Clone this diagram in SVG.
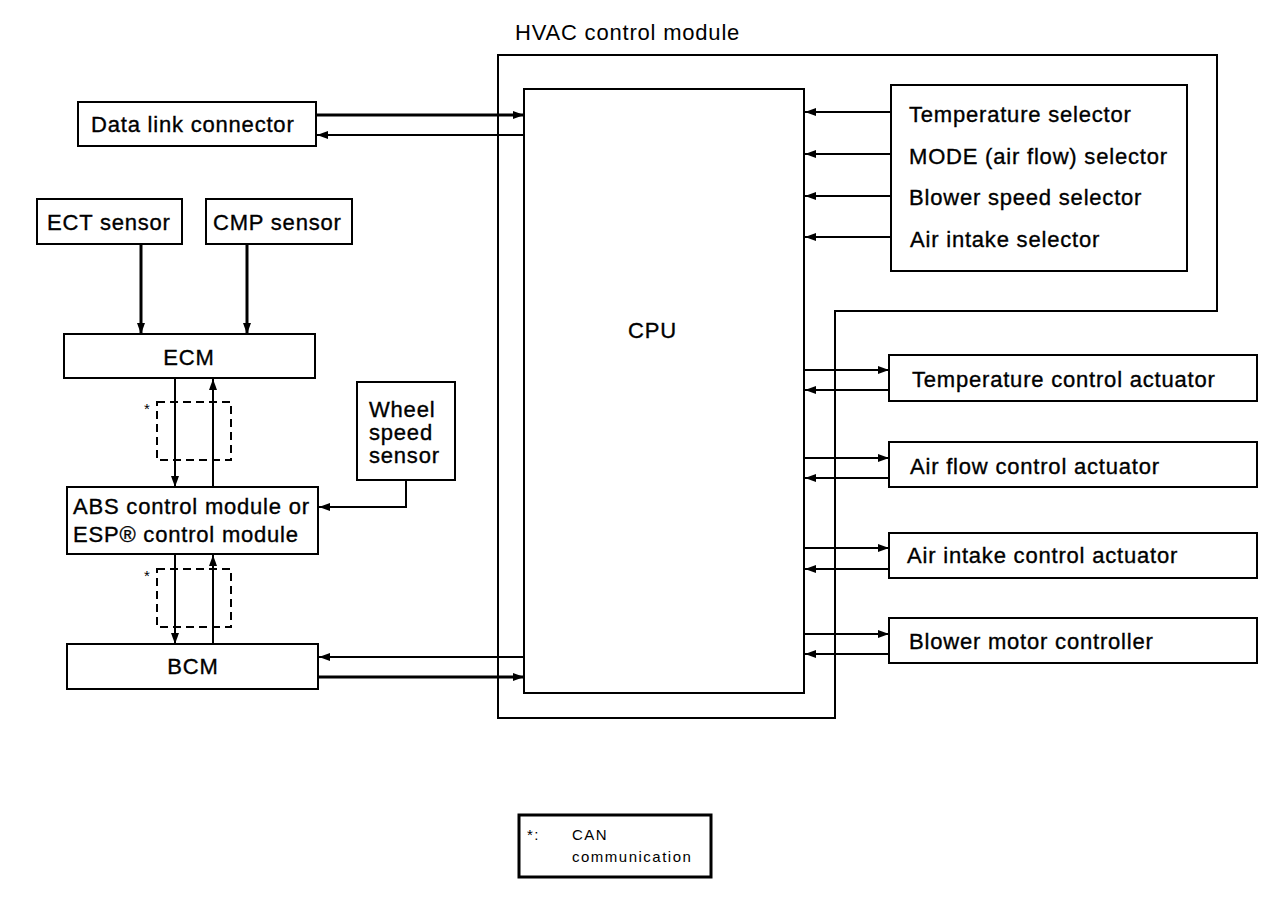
<svg xmlns="http://www.w3.org/2000/svg" width="1280" height="906" viewBox="0 0 1280 906">
<style>
.box{fill:#fff;stroke:#000;stroke-width:2}
.frame{fill:none;stroke:#000;stroke-width:2}
.dash{fill:none;stroke:#000;stroke-width:2;stroke-dasharray:8,5}
.t{font-family:"Liberation Sans",Arial,sans-serif;font-size:22px;letter-spacing:0.8px;fill:#000;stroke:#000;stroke-width:0.35}
.tc{text-anchor:middle}
.s{font-family:"Liberation Sans",Arial,sans-serif;font-size:15px;letter-spacing:1.5px;fill:#000}
.c{fill:none;stroke:#000;stroke-width:2}
.ck{fill:none;stroke:#000;stroke-width:3}
</style>
<defs>
<marker id="ah" markerUnits="userSpaceOnUse" markerWidth="11" markerHeight="8" refX="11" refY="4" orient="auto">
<path d="M0,0 L11,4 L0,8 z" fill="#000"/>
</marker>
</defs>
<rect width="1280" height="906" fill="#fff"/>

<g id="hvac-module">
<path class="frame" d="M498,55 H1217 V311 H835 V718 H498 Z"/>
<text class="t" x="515" y="40" style="stroke-width:0">HVAC control module</text>
</g>
<g id="cpu">
<rect class="box" x="524" y="89" width="280" height="604"/>
<text class="t" x="628" y="338">CPU</text>
</g>
<g id="selectors">
<rect class="box" x="891" y="85" width="296" height="186"/>
<text class="t" x="909" y="122">Temperature selector</text>
<text class="t" x="909" y="164">MODE (air flow) selector</text>
<text class="t" x="909" y="205">Blower speed selector</text>
<text class="t" x="910" y="247">Air intake selector</text>
</g>
<g id="data-link-connector">
<rect class="box" x="78" y="102" width="238" height="44"/>
<text class="t" x="91" y="132">Data link connector</text>
</g>
<g id="ect-sensor">
<rect class="box" x="37" y="199" width="145" height="45"/>
<text class="t" x="47" y="230">ECT sensor</text>
</g>
<g id="cmp-sensor">
<rect class="box" x="206" y="199" width="146" height="45"/>
<text class="t" x="213" y="230">CMP sensor</text>
</g>
<g id="ecm">
<rect class="box" x="64" y="334" width="251" height="44"/>
<text class="t tc" x="189" y="365">ECM</text>
</g>
<g id="can1">
<rect class="dash" x="157" y="402" width="74" height="58"/>
<text class="s" x="144" y="414">*</text>
</g>
<g id="abs">
<rect class="box" x="67" y="487" width="251" height="67"/>
<text class="t" x="73" y="514">ABS control module or</text>
<text class="t" x="73" y="542">ESP® control module</text>
</g>
<g id="wheel-speed-sensor">
<rect class="box" x="357" y="382" width="98" height="98"/>
<text class="t" x="369" y="417">Wheel</text>
<text class="t" x="369" y="440">speed</text>
<text class="t" x="369" y="463">sensor</text>
</g>
<g id="can2">
<rect class="dash" x="157" y="569" width="74" height="58"/>
<text class="s" x="144" y="581">*</text>
</g>
<g id="bcm">
<rect class="box" x="67" y="644" width="251" height="45"/>
<text class="t tc" x="193" y="674">BCM</text>
</g>
<g id="temp-actuator">
<rect class="box" x="889" y="355" width="368" height="46"/>
<text class="t" x="912" y="387">Temperature control actuator</text>
</g>
<g id="airflow-actuator">
<rect class="box" x="889" y="442" width="368" height="45"/>
<text class="t" x="910" y="474">Air flow control actuator</text>
</g>
<g id="intake-actuator">
<rect class="box" x="889" y="533" width="368" height="45"/>
<text class="t" x="907" y="563">Air intake control actuator</text>
</g>
<g id="blower-controller">
<rect class="box" x="889" y="618" width="368" height="45"/>
<text class="t" x="909" y="649">Blower motor controller</text>
</g>
<g id="legend">
<rect fill="#fff" stroke="#000" stroke-width="3" x="519" y="815" width="192" height="62"/>
<text class="s" x="527" y="840">*:</text>
<text class="s" x="572" y="840">CAN</text>
<text class="s" x="572" y="862">communication</text>
</g>

<g id="connectors">
<line class="ck" x1="316" y1="115" x2="524" y2="115" marker-end="url(#ah)"/>
<line class="c" x1="524" y1="135" x2="317" y2="135" marker-end="url(#ah)"/>
<line class="ck" x1="141" y1="244" x2="141" y2="334" marker-end="url(#ah)"/>
<line class="ck" x1="247" y1="244" x2="247" y2="334" marker-end="url(#ah)"/>
<line class="c" x1="175" y1="378" x2="175" y2="487" marker-end="url(#ah)"/>
<line class="c" x1="213" y1="487" x2="213" y2="379" marker-end="url(#ah)"/>
<polyline class="c" points="406,480 406,507 319,507" marker-end="url(#ah)"/>
<line class="c" x1="175" y1="554" x2="175" y2="644" marker-end="url(#ah)"/>
<line class="c" x1="213" y1="644" x2="213" y2="555" marker-end="url(#ah)"/>
<line class="c" x1="524" y1="657" x2="319" y2="657" marker-end="url(#ah)"/>
<line class="ck" x1="318" y1="677" x2="524" y2="677" marker-end="url(#ah)"/>
<line class="c" x1="891" y1="112" x2="805" y2="112" marker-end="url(#ah)"/>
<line class="c" x1="891" y1="154" x2="805" y2="154" marker-end="url(#ah)"/>
<line class="c" x1="891" y1="196" x2="805" y2="196" marker-end="url(#ah)"/>
<line class="c" x1="891" y1="237" x2="805" y2="237" marker-end="url(#ah)"/>
<line class="c" x1="804" y1="370" x2="889" y2="370" marker-end="url(#ah)"/>
<line class="c" x1="889" y1="390" x2="805" y2="390" marker-end="url(#ah)"/>
<line class="c" x1="804" y1="458" x2="889" y2="458" marker-end="url(#ah)"/>
<line class="c" x1="889" y1="478" x2="805" y2="478" marker-end="url(#ah)"/>
<line class="c" x1="804" y1="548" x2="889" y2="548" marker-end="url(#ah)"/>
<line class="c" x1="889" y1="569" x2="805" y2="569" marker-end="url(#ah)"/>
<line class="c" x1="804" y1="634" x2="889" y2="634" marker-end="url(#ah)"/>
<line class="c" x1="889" y1="654" x2="805" y2="654" marker-end="url(#ah)"/>
</g>
</svg>
